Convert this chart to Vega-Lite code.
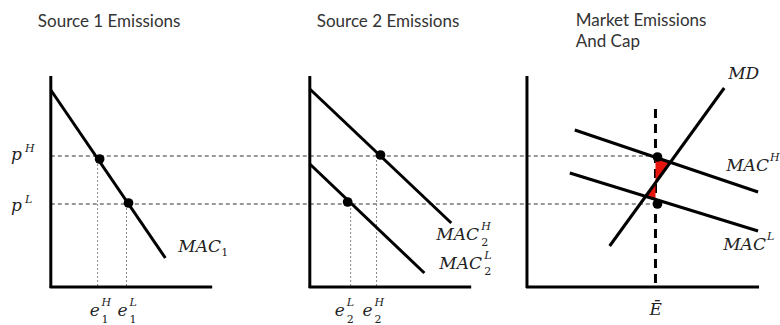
{
  "$schema": "https://vega.github.io/schema/vega-lite/v6.json",
  "width": 780,
  "height": 325,
  "autosize": {"type": "fit", "contains": "padding"},
  "padding": 0,
  "background": "white",
  "config": {"view": {"stroke": null}},
  "datasets": {
    "guides": [
      {"name": "pH", "x1": 51, "y1": 156, "x2": 658, "y2": 156},
      {"name": "pL", "x1": 51, "y1": 204, "x2": 658, "y2": 204}
    ],
    "drops": [
      {"name": "e1H", "x1": 98, "y1": 156, "x2": 98, "y2": 287},
      {"name": "e1L", "x1": 127, "y1": 204, "x2": 127, "y2": 287},
      {"name": "e2L", "x1": 352, "y1": 204, "x2": 352, "y2": 287},
      {"name": "e2H", "x1": 378, "y1": 156, "x2": 378, "y2": 287}
    ],
    "cap": [
      {"name": "Ebar", "x1": 658, "y1": 109, "x2": 658, "y2": 287}
    ],
    "tri": [
      {"t": "upper", "x": 658, "y": 157.3, "y2": 182.8},
      {"t": "upper", "x": 673, "y": 162.3, "y2": 162.3},
      {"t": "lower", "x": 648, "y": 196.4, "y2": 196.4},
      {"t": "lower", "x": 658, "y": 182.8, "y2": 199.4}
    ],
    "lines": [
      {"name": "axis1y", "x1": 51, "y1": 76, "x2": 51, "y2": 288},
      {"name": "axis1x", "x1": 50, "y1": 287, "x2": 213, "y2": 287},
      {"name": "axis2y", "x1": 311, "y1": 76, "x2": 311, "y2": 288},
      {"name": "axis2x", "x1": 310, "y1": 287, "x2": 473, "y2": 287},
      {"name": "axis3y", "x1": 529, "y1": 76, "x2": 529, "y2": 288},
      {"name": "axis3x", "x1": 528, "y1": 287, "x2": 762, "y2": 287},
      {"name": "MAC1", "x1": 51, "y1": 90, "x2": 166, "y2": 258},
      {"name": "MAC2H", "x1": 311, "y1": 89, "x2": 453, "y2": 223},
      {"name": "MAC2L", "x1": 311, "y1": 164, "x2": 426, "y2": 273},
      {"name": "MD", "x1": 612, "y1": 246, "x2": 727, "y2": 88},
      {"name": "MACH", "x1": 577, "y1": 130, "x2": 761, "y2": 192},
      {"name": "MACL", "x1": 572, "y1": 173, "x2": 761, "y2": 231}
    ],
    "dots": [
      {"x": 100, "y": 159},
      {"x": 129, "y": 203},
      {"x": 382, "y": 155},
      {"x": 349, "y": 202},
      {"x": 660, "y": 157},
      {"x": 660, "y": 204}
    ],
    "titles": [
      {"label": "Source 1 Emissions", "x": 38, "y": 22},
      {"label": "Source 2 Emissions", "x": 318, "y": 22},
      {"label": "Market Emissions", "x": 578, "y": 21},
      {"label": "And Cap", "x": 578, "y": 42}
    ],
    "math": [
      {"label": "p", "x": 11, "y": 155},
      {"label": "p", "x": 11, "y": 206},
      {"label": "e", "x": 90, "y": 311},
      {"label": "e", "x": 118, "y": 311},
      {"label": "e", "x": 336, "y": 311},
      {"label": "e", "x": 364, "y": 311},
      {"label": "Ē", "x": 652, "y": 310},
      {"label": "MAC", "x": 179, "y": 247},
      {"label": "MAC", "x": 438, "y": 235},
      {"label": "MAC", "x": 441, "y": 264},
      {"label": "MAC", "x": 729, "y": 166},
      {"label": "MAC", "x": 726, "y": 245},
      {"label": "MD", "x": 731, "y": 74}
    ],
    "sups": [
      {"label": "H", "x": 25, "y": 149},
      {"label": "L", "x": 25, "y": 200},
      {"label": "H", "x": 102, "y": 303},
      {"label": "L", "x": 130, "y": 303},
      {"label": "L", "x": 348, "y": 303},
      {"label": "H", "x": 376, "y": 303},
      {"label": "H", "x": 483, "y": 227},
      {"label": "L", "x": 486, "y": 256},
      {"label": "H", "x": 773, "y": 158},
      {"label": "L", "x": 770, "y": 237}
    ],
    "subs": [
      {"label": "1", "x": 102, "y": 320},
      {"label": "1", "x": 130, "y": 320},
      {"label": "2", "x": 348, "y": 320},
      {"label": "2", "x": 376, "y": 320},
      {"label": "1", "x": 222, "y": 253},
      {"label": "2", "x": 483, "y": 243},
      {"label": "2", "x": 486, "y": 272}
    ]
  },
  "layer": [
    {
      "data": {"name": "guides"},
      "mark": {"type": "rule", "stroke": "#333", "strokeWidth": 1, "strokeDash": [4, 3]},
      "encoding": {
        "x": {"field": "x1", "type": "quantitative", "scale": {"domain": [0, 780], "nice": false, "zero": false}, "axis": null},
        "y": {"field": "y1", "type": "quantitative", "scale": {"domain": [0, 325], "nice": false, "zero": false, "reverse": true}, "axis": null},
        "x2": {"field": "x2"},
        "y2": {"field": "y2"}
      }
    },
    {
      "data": {"name": "drops"},
      "mark": {"type": "rule", "stroke": "#888", "strokeWidth": 1, "strokeDash": [2, 2]},
      "encoding": {
        "x": {"field": "x1", "type": "quantitative"},
        "y": {"field": "y1", "type": "quantitative"},
        "x2": {"field": "x2"},
        "y2": {"field": "y2"}
      }
    },
    {
      "data": {"name": "cap"},
      "mark": {"type": "rule", "stroke": "black", "strokeWidth": 3, "strokeDash": [9, 6]},
      "encoding": {
        "x": {"field": "x1", "type": "quantitative"},
        "y": {"field": "y1", "type": "quantitative"},
        "x2": {"field": "x2"},
        "y2": {"field": "y2"}
      }
    },
    {
      "data": {"name": "tri"},
      "mark": {"type": "area", "color": "#e8150f", "opacity": 1},
      "encoding": {
        "x": {"field": "x", "type": "quantitative"},
        "y": {"field": "y", "type": "quantitative"},
        "y2": {"field": "y2"},
        "detail": {"field": "t"}
      }
    },
    {
      "data": {"name": "lines"},
      "mark": {"type": "rule", "stroke": "black", "strokeWidth": 3, "strokeCap": "butt"},
      "encoding": {
        "x": {"field": "x1", "type": "quantitative"},
        "y": {"field": "y1", "type": "quantitative"},
        "x2": {"field": "x2"},
        "y2": {"field": "y2"}
      }
    },
    {
      "data": {"name": "dots"},
      "mark": {"type": "circle", "color": "black", "opacity": 1, "size": 95},
      "encoding": {
        "x": {"field": "x", "type": "quantitative"},
        "y": {"field": "y", "type": "quantitative"}
      }
    },
    {
      "data": {"name": "titles"},
      "mark": {"type": "text", "align": "left", "baseline": "middle", "font": "Lato", "fontSize": 17, "color": "#333"},
      "encoding": {
        "x": {"field": "x", "type": "quantitative"},
        "y": {"field": "y", "type": "quantitative"},
        "text": {"field": "label"}
      }
    },
    {
      "data": {"name": "math"},
      "mark": {"type": "text", "align": "left", "baseline": "middle", "font": "DejaVu Serif", "fontStyle": "italic", "fontSize": 17, "color": "#222"},
      "encoding": {
        "x": {"field": "x", "type": "quantitative"},
        "y": {"field": "y", "type": "quantitative"},
        "text": {"field": "label"}
      }
    },
    {
      "data": {"name": "sups"},
      "mark": {"type": "text", "align": "left", "baseline": "middle", "font": "DejaVu Serif", "fontStyle": "italic", "fontSize": 11, "color": "#222"},
      "encoding": {
        "x": {"field": "x", "type": "quantitative"},
        "y": {"field": "y", "type": "quantitative"},
        "text": {"field": "label"}
      }
    },
    {
      "data": {"name": "subs"},
      "mark": {"type": "text", "align": "left", "baseline": "middle", "font": "DejaVu Serif", "fontSize": 11, "color": "#222"},
      "encoding": {
        "x": {"field": "x", "type": "quantitative"},
        "y": {"field": "y", "type": "quantitative"},
        "text": {"field": "label"}
      }
    }
  ]
}
